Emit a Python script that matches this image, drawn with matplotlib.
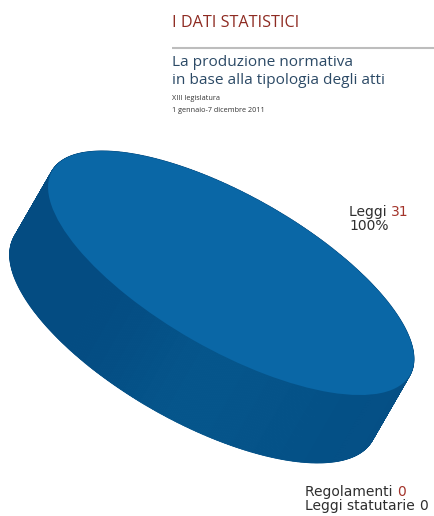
import matplotlib
matplotlib.use("Agg")
import matplotlib.pyplot as plt
from matplotlib.transforms import Affine2D
from matplotlib.collections import PolyCollection
import matplotlib.colors as mcolors
import numpy as np

# Data
categories = ["Leggi", "Regolamenti", "Leggi statutarie"]
counts = [31, 0, 0]
share_label = "100%"

title = "I DATI STATISTICI"
subtitle = ["La produzione normativa", "in base alla tipologia degli atti"]
notes = ["XIII legislatura", "1 gennaio-7 dicembre 2011"]

W, H = 435, 516
fig = plt.figure(figsize=(W / 100, H / 100), dpi=100)
ax = fig.add_axes([0, 0, 1, 1])

top_color = "#0a67a6"
side_dark = np.array(mcolors.to_rgb("#044c82"))
side_light = np.array(mcolors.to_rgb("#06568c"))

# Geometry of the tilted disc (pixel space, y downwards)
cx, cy = 231, 273
a, b_top, b_bot = 206, 77, 81
angle = 29.7
dx, dy = -38, 66

T_top = Affine2D().scale(a, b_top).rotate_deg(angle).translate(cx, cy)
T_bot = Affine2D().scale(a, b_bot).rotate_deg(angle).translate(cx + dx, cy + dy)

top_wedges, _ = ax.pie(counts, colors=[top_color] * len(counts), startangle=90,
                       wedgeprops=dict(linewidth=0))
bot_wedges, _ = ax.pie(counts, colors=[mcolors.to_hex(side_dark)] * len(counts),
                       startangle=90, wedgeprops=dict(linewidth=0))

ax.set_xlim(0, W)
ax.set_ylim(H, 0)
ax.set_aspect("auto")
ax.axis("off")

for w in top_wedges:
    w.set_transform(T_top + ax.transData)
    w.set_zorder(3)
for w in bot_wedges:
    w.set_transform(T_bot + ax.transData)
    w.set_zorder(1)

# Side band of the disc, built from the wedge angles
quads, shades, depth = [], [], []
for w in top_wedges:
    if w.theta2 <= w.theta1:
        continue
    t = np.radians(np.linspace(w.theta1, w.theta2, 721))
    unit = np.c_[np.cos(t), np.sin(t)] * w.r
    p_top = T_top.transform(unit)
    p_bot = T_bot.transform(unit)
    for i in range(len(t) - 1):
        q = [p_top[i], p_top[i + 1], p_bot[i + 1], p_bot[i]]
        quads.append(q)
        # facing direction of the rim in screen space
        nrm = T_top.transform(unit[i] * 1.0) - np.array([cx, cy])
        ang = np.arctan2(nrm[1], nrm[0])
        f = np.clip(np.cos(ang - np.radians(95)), 0, 1) ** 1.5
        shades.append(side_dark + (side_light - side_dark) * f)
        depth.append(np.mean([pt[1] for pt in q]))

order = np.argsort(depth)
pc = PolyCollection([quads[i] for i in order],
                    facecolors=[shades[i] for i in order],
                    edgecolors=[shades[i] for i in order],
                    linewidths=0.6, zorder=2)
ax.add_collection(pc)

# Header
red = "#8e2b22"
blue_txt = "#2c4a66"
ax.text(172, 27, title, fontsize=11.6, color=red, family="Open Sans",
        va="baseline", ha="left")
ax.plot([172, 435], [48, 48], color="#bdbdbd", lw=1.5, solid_capstyle="butt")
ax.text(172, 66.5, subtitle[0], fontsize=11.1, color=blue_txt, family="Open Sans",
        va="baseline", ha="left")
ax.text(172, 83.5, subtitle[1], fontsize=11.1, color=blue_txt, family="Open Sans",
        va="baseline", ha="left")
ax.text(172, 100.5, notes[0], fontsize=5.2, color="#333333", family="Open Sans",
        va="baseline", ha="left")
ax.text(172, 111.5, notes[1], fontsize=5.2, color="#333333", family="Open Sans",
        va="baseline", ha="left")

# Slice labels
lab_color = "#2e2e2e"
val_red = "#a3332a"
fs = 10
t1 = ax.text(349, 216, categories[0] + " ", fontsize=fs, color=lab_color,
             family="DejaVu Sans", va="baseline", ha="left")
ax.annotate(str(counts[0]), xy=(1, 0), xycoords=t1, va="bottom", ha="left",
            fontsize=fs, color=val_red, family="DejaVu Sans")
ax.text(349, 230, share_label, fontsize=fs, color=lab_color,
        family="DejaVu Sans", va="baseline", ha="left")

t2 = ax.text(305, 496, categories[1] + " ", fontsize=fs, color=lab_color,
             family="DejaVu Sans", va="baseline", ha="left")
ax.annotate(str(counts[1]), xy=(1, 0), xycoords=t2, va="bottom", ha="left",
            fontsize=fs, color=val_red, family="DejaVu Sans")
t3 = ax.text(305, 510, categories[2] + " ", fontsize=fs, color=lab_color,
             family="DejaVu Sans", va="baseline", ha="left")
ax.annotate(str(counts[2]), xy=(1, 0), xycoords=t3, va="bottom", ha="left",
            fontsize=fs, color=lab_color, family="DejaVu Sans")

fig.savefig("out.png", dpi=100)
